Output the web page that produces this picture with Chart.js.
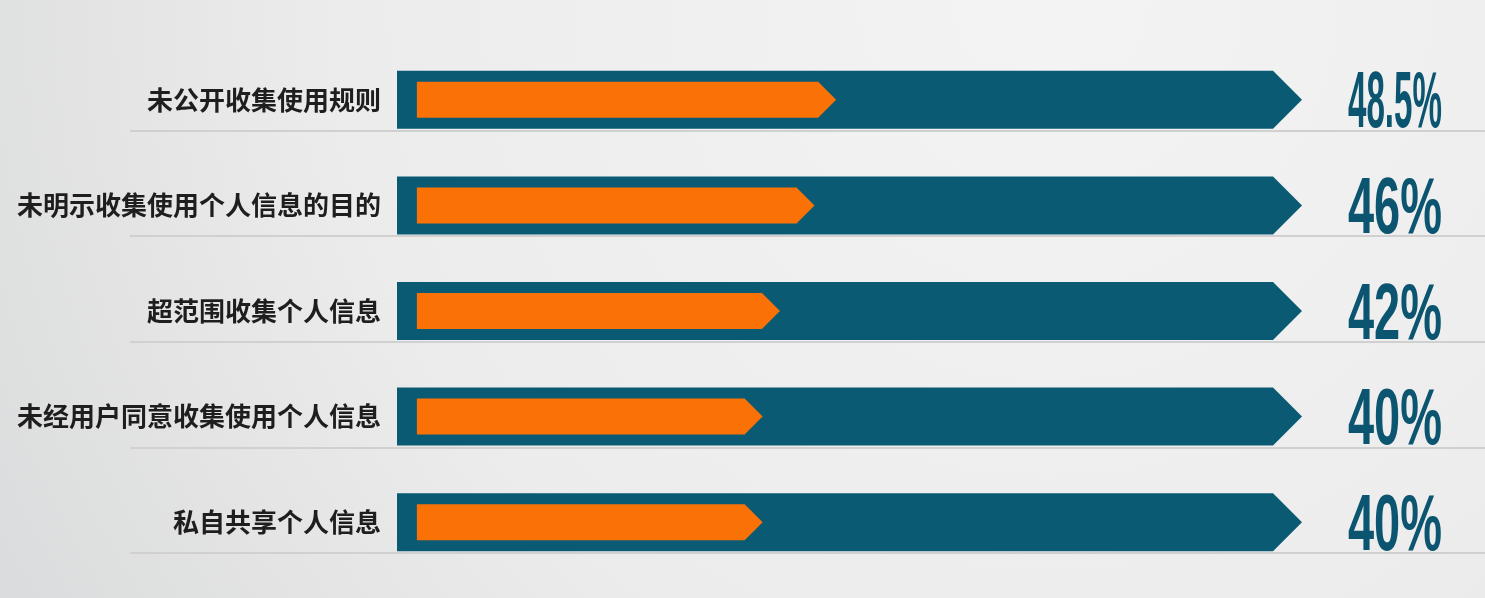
<!DOCTYPE html>
<html>
<head>
<meta charset="utf-8">
<script src="https://cdn.jsdelivr.net/npm/chart.js@4/dist/chart.umd.min.js"></script>
<style>
html,body{margin:0;padding:0;background:#ececec;}
#wrap{width:1485px;height:598px;position:relative;}
</style>
</head>
<body>
<div id="wrap"><canvas id="c" width="1485" height="598"></canvas></div>
<script>
// ---- data ----
const categories = ['未公开收集使用规则','未明示收集使用个人信息的目的','超范围收集个人信息','未经用户同意收集使用个人信息','私自共享个人信息'];
const values = [48.5, 46, 42, 40, 40];
const trackValues = [100, 100, 100, 100, 100];
const valueLabels = values.map(v => v + '%');

const TEAL = '#0a5a74';
const ORANGE = '#fa7206';

const bgPlugin = {
  id: 'bg',
  beforeDraw(chart) {
    const ctx = chart.ctx, w = chart.width, h = chart.height;
    ctx.save();
    const g = ctx.createRadialGradient(1050, 0, 50, 1050, 0, 1250);
    g.addColorStop(0, '#f3f3f3');
    g.addColorStop(0.55, '#ececec');
    g.addColorStop(1, '#d9dadb');
    ctx.fillStyle = g;
    ctx.fillRect(0, 0, w, h);
    ctx.restore();
  }
};

function arrowPath(ctx, x0, x1, yc, h) {
  const tip = h / 2;
  ctx.beginPath();
  ctx.moveTo(x0, yc - h / 2);
  ctx.lineTo(x1 - tip, yc - h / 2);
  ctx.lineTo(x1, yc);
  ctx.lineTo(x1 - tip, yc + h / 2);
  ctx.lineTo(x0, yc + h / 2);
  ctx.closePath();
}

const arrowPlugin = {
  id: 'arrows',
  beforeDatasetsDraw(chart) {
    const ctx = chart.ctx;
    const track = chart.getDatasetMeta(0);
    ctx.save();
    ctx.strokeStyle = '#d0d0d0';
    ctx.lineWidth = 2;
    track.data.forEach(el => {
      const p = el.getProps(['y', 'height'], true);
      const y = Math.round(p.y + p.height / 2) + 2;
      ctx.beginPath();
      ctx.moveTo(130, y);
      ctx.lineTo(chart.width, y);
      ctx.stroke();
    });
    ctx.restore();
  },
  afterDatasetsDraw(chart) {
    const ctx = chart.ctx;
    const track = chart.getDatasetMeta(0);
    const fill = chart.getDatasetMeta(1);
    ctx.save();
    track.data.forEach(el => {
      const p = el.getProps(['x', 'y', 'base', 'height'], true);
      ctx.fillStyle = TEAL;
      arrowPath(ctx, p.base, p.x, p.y, p.height);
      ctx.fill();
    });
    fill.data.forEach(el => {
      const p = el.getProps(['x', 'y', 'base', 'height'], true);
      ctx.fillStyle = ORANGE;
      arrowPath(ctx, p.base, p.x, p.y, p.height);
      ctx.fill();
    });
    // value labels, each squeezed to a fixed width
    const area = chart.chartArea;
    ctx.fillStyle = '#0b5570';
    ctx.font = 'bold 80px "Liberation Sans", Arial, sans-serif';
    ctx.textAlign = 'right';
    ctx.textBaseline = 'alphabetic';
    const boxW = 94;
    track.data.forEach((el, i) => {
      const p = el.getProps(['y'], true);
      const txt = valueLabels[i];
      const m = ctx.measureText(txt);
      const sx = boxW / m.width;
      const asc = m.actualBoundingBoxAscent, desc = m.actualBoundingBoxDescent;
      const yb = p.y + (asc - desc) / 2;
      ctx.save();
      ctx.translate(area.right + 140, yb);
      ctx.scale(sx, 1);
      ctx.fillText(txt, 0, 0);
      ctx.restore();
    });
    ctx.restore();
  }
};

new Chart(document.getElementById('c'), {
  type: 'bar',
  data: {
    labels: categories,
    datasets: [
      { label: 'track', data: trackValues, xAxisID: 'x', backgroundColor: 'rgba(0,0,0,0)', barThickness: 58, grouped: false },
      { label: 'value', data: values, xAxisID: 'x2', backgroundColor: 'rgba(0,0,0,0)', barThickness: 36, grouped: false }
    ]
  },
  options: {
    indexAxis: 'y',
    responsive: false,
    animation: false,
    devicePixelRatio: 1,
    layout: { padding: { left: 0, right: 183, top: 47, bottom: 23 } },
    plugins: { legend: { display: false }, tooltip: { enabled: false } },
    scales: {
      x: { display: false, min: 0, max: 100 },
      x2: { display: false, min: -2.3, max: 102.4 },
      y: {
        grid: { display: false, drawTicks: false },
        border: { display: false },
        ticks: {
          padding: 16,
          color: '#1e1e1e',
          font: { family: '"Noto Sans CJK SC", sans-serif', size: 26, weight: 'bold' }
        },
        afterFit(scale) {
          scale.width = 397;
          scale.paddingTop = 0;
          scale.paddingBottom = 0;
        }
      }
    }
  },
  plugins: [bgPlugin, arrowPlugin]
});
</script>
</body>
</html>
